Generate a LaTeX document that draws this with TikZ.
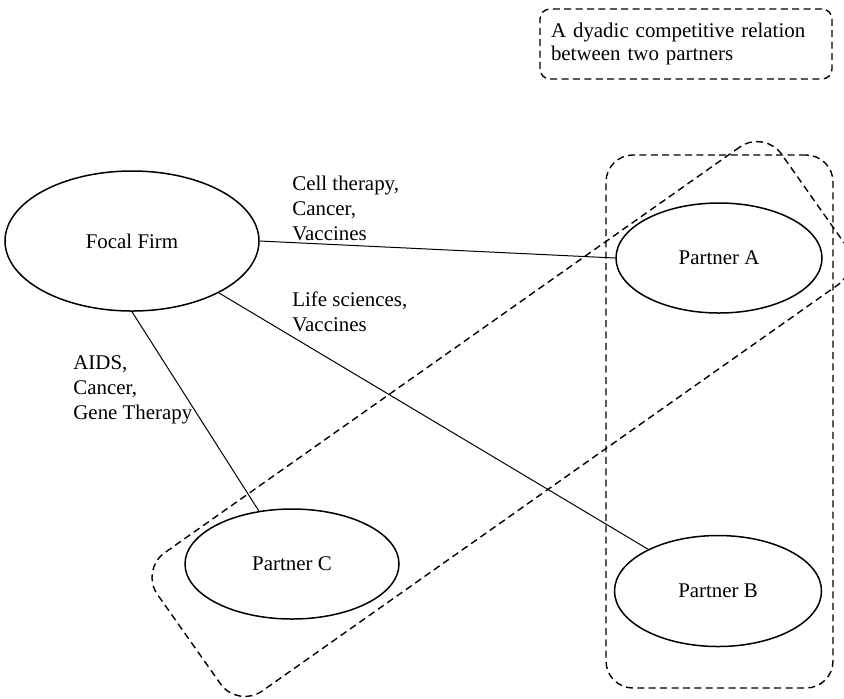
\documentclass[tikz,border=0pt]{standalone}
\usepackage{fontspec}
\setmainfont{Liberation Serif}
\usetikzlibrary{shapes.geometric}
\begin{document}
\begin{tikzpicture}[x=0.5pt,y=-0.5pt,
  firm/.style={draw, ellipse, line width=0.75pt, inner sep=0pt, font=\fontsize{10.45pt}{12.5pt}\selectfont},
  tie/.style={line width=0.5pt},
  lbl/.style={anchor=west, align=left, inner sep=0pt, font=\fontsize{10.45pt}{12.5pt}\selectfont},
  group/.style={draw, line width=0.7pt, dash pattern=on 3.5pt off 2.2pt, inner sep=0pt}]
\clip (0,0) rectangle (844,698);
% groupings
\node[group, rounded corners=13.5pt, minimum width=113.5pt, minimum height=266.5pt] (pairAB) at (719.5,421.5) {};
\node[group, rounded corners=15pt, minimum width=381.9pt, minimum height=84.6pt, rotate=35.2] (pairBC) at (501,419) {};
\node[group, rounded corners=5pt, minimum width=146pt, minimum height=35pt, inner xsep=5.5pt, text width=135pt, align=left, font=\fontsize{10.45pt}{11.75pt}\selectfont] (legend) at (686,44) {A dyadic competitive relation\\between two partners};
% firms
\node[firm, minimum width=127pt, minimum height=70pt] (F) at (132,241) {Focal Firm};
\node[firm, minimum width=103pt, minimum height=55pt] (A) at (719,258) {Partner A};
\node[firm, minimum width=103.5pt, minimum height=55.5pt] (B) at (718,591) {Partner B};
\node[firm, minimum width=107pt, minimum height=55pt] (C) at (292,564) {Partner C};
% ties
\draw[tie] (F.east) -- (A.west);
\draw[tie] (F) -- (B);
\draw[tie] (F.south) -- (C.122);
% labels
\node[lbl] (lblA) at (292,208) {Cell therapy,\\Cancer,\\Vaccines};
\node[lbl] (lblB) at (292,311.5) {Life sciences,\\Vaccines};
\node[lbl] (lblC) at (73,390) {AIDS,\\Cancer,\\Gene Therapy};
\end{tikzpicture}
\end{document}
